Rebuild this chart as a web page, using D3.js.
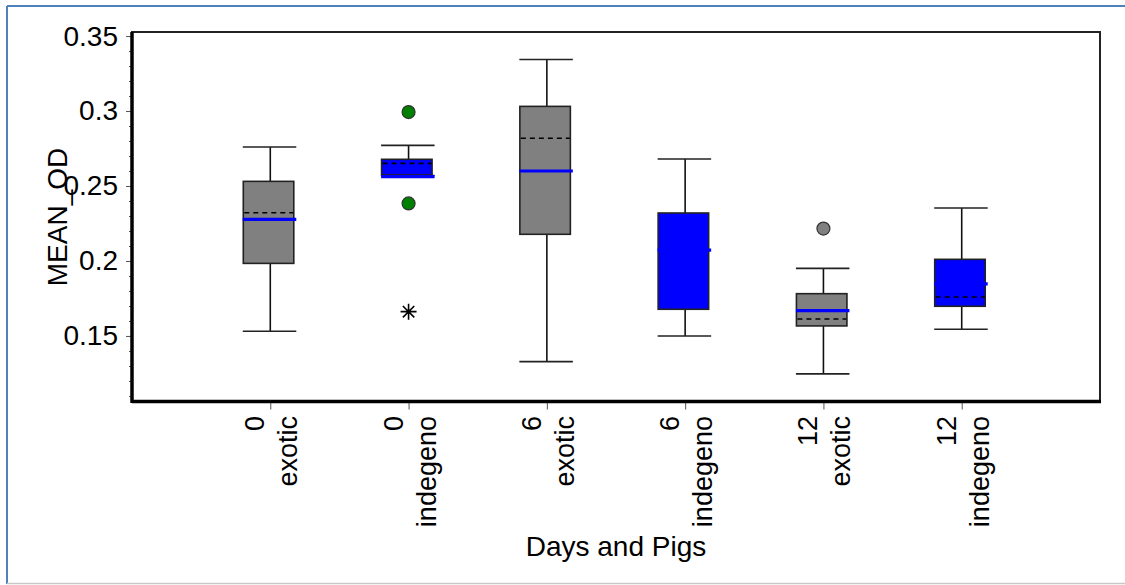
<!DOCTYPE html>
<meta charset="utf-8">
<style>
body { margin: 0; background: #fff; }
text { font-family: "Liberation Sans", Arial, sans-serif; fill: #000; }
.tick line { stroke: #555; }
</style>
<svg width="1125" height="585"></svg>
<script src="https://cdn.jsdelivr.net/npm/d3@7"></script>
<script>

// data
var days = ["0", "0", "6", "6", "12", "12"];
var pigs = ["exotic", "indegeno", "exotic", "indegeno", "exotic", "indegeno"];
var boxFill = ["#808080", "#0000ff", "#808080", "#0000ff", "#808080", "#0000ff"];

var whiskerLow  = [0.1531, 0.2570, 0.1329, 0.1500, 0.1247, 0.1545];
var q1          = [0.1984, 0.2574, 0.2178, 0.1678, 0.1567, 0.1698];
var median      = [0.2278, 0.2563, 0.2600, 0.2073, 0.1669, 0.1847];
var mean        = [0.2322, 0.2651, 0.2818, 0.2073, 0.1613, 0.1760];
var q3          = [0.2531, 0.2678, 0.3031, 0.2320, 0.1782, 0.2011];
var whiskerHigh = [0.2760, 0.2771, 0.3344, 0.2680, 0.1951, 0.2353];

// outliers: group index, value, symbol
var outGroup = [1, 1, 1, 4];
var outValue = [0.2993, 0.2384, 0.1662, 0.2216];
var outKind  = ["dot", "dot", "star", "dot"];
var outFill  = ["#008000", "#008000", "#000", "#808080"];

var majorTicks = [0.15, 0.2, 0.25, 0.3, 0.35];
var minorTicks = d3.range(11, 36).map(function(d) { return d / 100; });

var svg = d3.select("svg");

var plotL = 132, plotR = 1100, plotT = 32, plotB = 401.5;

var idx = d3.range(days.length);
var x = d3.scalePoint().domain(idx).range([plotL, plotR]).padding(1);
var y = d3.scaleLinear().domain([0.1063, 0.3527]).range([plotB, plotT]);

// outer frame
svg.append("line").attr("x1", 7).attr("y1", 6).attr("x2", 1125).attr("y2", 6)
  .attr("stroke", "#4f81bd").attr("stroke-width", 2);
svg.append("line").attr("x1", 7).attr("y1", 6).attr("x2", 7).attr("y2", 584)
  .attr("stroke", "#4f81bd").attr("stroke-width", 2);
svg.append("line").attr("x1", 7).attr("y1", 583.5).attr("x2", 1125).attr("y2", 583.5)
  .attr("stroke", "#c8c8c8").attr("stroke-width", 1.5);

// plot frame
svg.append("rect").attr("x", plotL).attr("y", plotT)
  .attr("width", plotR - plotL).attr("height", plotB - plotT)
  .attr("fill", "none").attr("stroke", "#222").attr("stroke-width", 2);

// y axis
var yMinor = svg.append("g").attr("transform", "translate(" + plotL + ",0)")
  .call(d3.axisLeft(y).tickValues(minorTicks).tickSize(3).tickFormat(""));
yMinor.select(".domain").remove();
yMinor.selectAll(".tick line").attr("stroke", "#888");

var yAxis = svg.append("g").attr("transform", "translate(" + plotL + ",0)")
  .call(d3.axisLeft(y).tickValues(majorTicks).tickSize(6).tickPadding(8).tickFormat(d3.format("")));
yAxis.select(".domain").remove();
yAxis.selectAll("text").style("font-size", "28px").attr("fill", "#111");

// x axis
var xAxis = svg.append("g").attr("transform", "translate(0," + plotB + ")")
  .call(d3.axisBottom(x).tickSize(8).tickFormat(""));
xAxis.select(".domain").remove();
xAxis.selectAll(".tick line").attr("stroke", "#888");

// thick left and bottom axis lines
svg.append("line").attr("x1", plotL).attr("y1", plotT).attr("x2", plotL).attr("y2", plotB + 1.5)
  .attr("stroke", "#000").attr("stroke-width", 3.5);
svg.append("line").attr("x1", plotL).attr("y1", plotB).attr("x2", plotR + 1).attr("y2", plotB)
  .attr("stroke", "#000").attr("stroke-width", 3.5);

// category labels, rotated
var lab = svg.append("g").selectAll("g").data(idx).enter().append("g")
  .attr("transform", function(i) { return "translate(" + x(i) + ",416) rotate(-90)"; })
  .style("font-size", "27px").attr("text-anchor", "end");
lab.append("text").attr("y", -6).text(function(i) { return days[i]; });
lab.append("text").attr("y", 27).text(function(i) { return pigs[i]; });

// axis titles
svg.append("text").attr("transform", "translate(67,217) rotate(-90)")
  .attr("text-anchor", "middle").style("font-size", "28px").text("MEAN_OD");
svg.append("text").attr("x", (plotL + plotR) / 2).attr("y", 556)
  .attr("text-anchor", "middle").style("font-size", "28px").text("Days and Pigs");

// boxes
var g = svg.append("g").selectAll("g").data(idx).enter().append("g");

g.append("line")
  .attr("x1", function(i) { return x(i); }).attr("x2", function(i) { return x(i); })
  .attr("y1", function(i) { return y(whiskerHigh[i]); }).attr("y2", function(i) { return y(q3[i]); })
  .attr("stroke", "#111").attr("stroke-width", 1.6);
g.append("line")
  .attr("x1", function(i) { return x(i); }).attr("x2", function(i) { return x(i); })
  .attr("y1", function(i) { return y(whiskerLow[i]); }).attr("y2", function(i) { return y(q1[i]); })
  .attr("stroke", "#111").attr("stroke-width", 1.6);
g.append("line")
  .attr("x1", function(i) { return x(i) - 27.5; }).attr("x2", function(i) { return x(i) + 26; })
  .attr("y1", function(i) { return y(whiskerHigh[i]); }).attr("y2", function(i) { return y(whiskerHigh[i]); })
  .attr("stroke", "#222").attr("stroke-width", 1.6);
g.append("line")
  .attr("x1", function(i) { return x(i) - 27.5; }).attr("x2", function(i) { return x(i) + 26; })
  .attr("y1", function(i) { return y(whiskerLow[i]); }).attr("y2", function(i) { return y(whiskerLow[i]); })
  .attr("stroke", "#222").attr("stroke-width", 1.6);

g.append("rect")
  .attr("x", function(i) { return x(i) - 27; })
  .attr("width", 50.5)
  .attr("y", function(i) { return y(q3[i]); })
  .attr("height", function(i) { return y(q1[i]) - y(q3[i]); })
  .attr("fill", function(i) { return boxFill[i]; })
  .attr("stroke", "#222").attr("stroke-width", 1.6);

g.append("line")
  .attr("x1", function(i) { return x(i) - 26; }).attr("x2", function(i) { return x(i) + 23; })
  .attr("y1", function(i) { return y(mean[i]); }).attr("y2", function(i) { return y(mean[i]); })
  .attr("stroke", "#000").attr("stroke-width", 1.6).attr("stroke-dasharray", "5,4");

g.append("line")
  .attr("x1", function(i) { return x(i) - 27.5; }).attr("x2", function(i) { return x(i) + 26; })
  .attr("y1", function(i) { return y(median[i]); }).attr("y2", function(i) { return y(median[i]); })
  .attr("stroke", "#0000ff").attr("stroke-width", 3.2);

// outliers
var oi = d3.range(outValue.length);
svg.append("g").selectAll("circle").data(oi.filter(function(k) { return outKind[k] == "dot"; }))
  .enter().append("circle")
  .attr("cx", function(k) { return x(outGroup[k]); })
  .attr("cy", function(k) { return y(outValue[k]); })
  .attr("r", 6.5)
  .attr("fill", function(k) { return outFill[k]; })
  .attr("stroke", "#333").attr("stroke-width", 1.2);

var starPath = "M-8,0L8,0M0,-8L0,8M-5.7,-5.7L5.7,5.7M-5.7,5.7L5.7,-5.7";
svg.append("g").selectAll("path").data(oi.filter(function(k) { return outKind[k] == "star"; }))
  .enter().append("path")
  .attr("transform", function(k) { return "translate(" + x(outGroup[k]) + "," + y(outValue[k]) + ")"; })
  .attr("d", starPath)
  .attr("stroke", function(k) { return outFill[k]; }).attr("stroke-width", 1.6).attr("fill", "none");

</script>
